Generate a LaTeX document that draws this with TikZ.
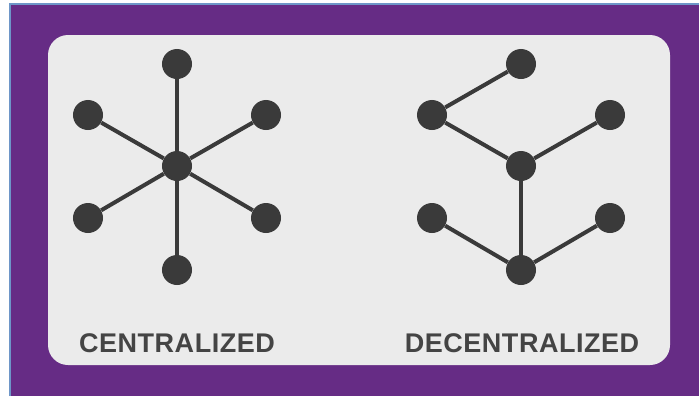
\documentclass[tikz,border=0pt]{standalone}
\usepackage{fontspec}
\setmainfont{Liberation Sans}
\definecolor{bgpurple}{RGB}{102,44,133}
\definecolor{edgeblue}{RGB}{110,150,200}
\definecolor{panelgray}{RGB}{235,235,235}
\definecolor{dotgray}{RGB}{58,58,58}
\definecolor{textgray}{RGB}{68,68,68}
\begin{document}
\begin{tikzpicture}[x=0.025cm,y=-0.025cm]
    \tikzset{dot/.style=  {circle,
                           fill=dotgray,
                           inner sep=0pt,
                           minimum size=0.75cm},
             link/.style= {draw=dotgray,
                           line width=0.1cm},
             caption/.style={text=textgray,
                           inner sep=0pt,
                           font=\fontsize{19.2}{22}\selectfont\bfseries\addfontfeature{LetterSpace=2}},
            }
    \useasboundingbox (0,0) rectangle (699,396);
    \fill[white]      (0,0) rectangle (699,396);
    \fill[bgpurple]   (10,4) rectangle (699,396);
    \draw[edgeblue,line width=1.5pt] (10,396) -- (10,4) -- (699,4);
    \fill[panelgray,rounded corners=0.5cm] (48,35) rectangle (670,365);
    % centralized
    \path
    (177,166) node[dot](c)  {}
    (177,64)  node[dot](ct) {}
    (88,115)  node[dot](cul) {}
    (266,115) node[dot](cur) {}
    (88,218)  node[dot](cll) {}
    (266,218) node[dot](clr) {}
    (177,270) node[dot](cb) {}
    (177,343) node[caption](cl) {CENTRALIZED}
    ;
    \foreach \n in {ct,cul,cur,cll,clr,cb}
        \draw[link] (c) -- (\n);
    % decentralized
    \path
    (521,64)  node[dot](dt) {}
    (432,115) node[dot](dl) {}
    (610,115) node[dot](dr) {}
    (521,166) node[dot](dm) {}
    (432,218) node[dot](dbl) {}
    (610,218) node[dot](dbr) {}
    (521,270) node[dot](db) {}
    (522,343) node[caption](dcl) {DECENTRALIZED}
    ;
    \draw[link] (dt) -- (dl);
    \draw[link] (dl) -- (dm);
    \draw[link] (dm) -- (dr);
    \draw[link] (dm) -- (db);
    \draw[link] (dbl) -- (db);
    \draw[link] (db) -- (dbr);
\end{tikzpicture}
\end{document}
